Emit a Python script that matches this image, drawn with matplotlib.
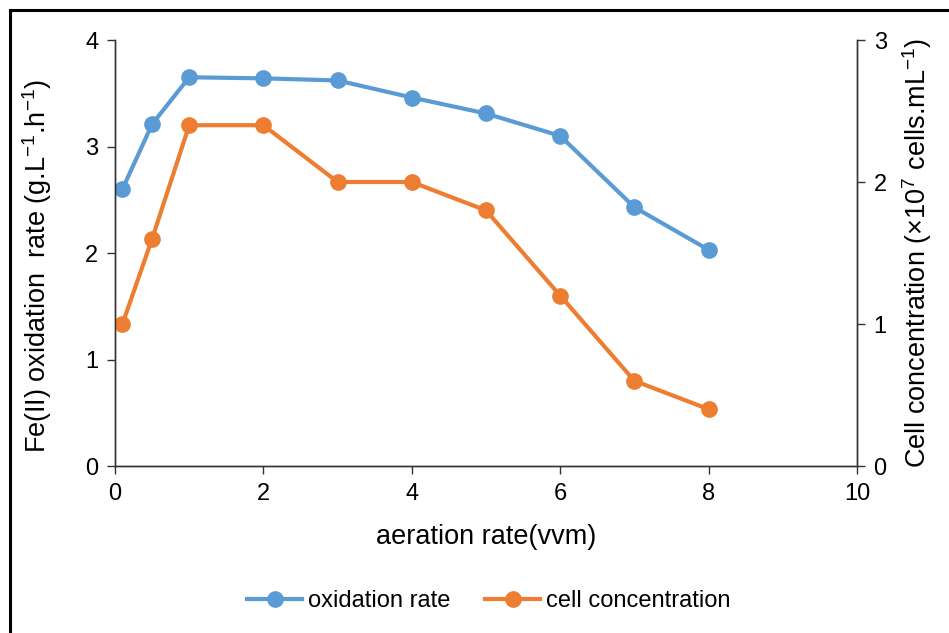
import matplotlib.pyplot as plt
from matplotlib.lines import Line2D

plt.rcParams['font.family'] = ['Liberation Sans', 'DejaVu Sans']
plt.rcParams['mathtext.fontset'] = 'custom'
plt.rcParams['mathtext.rm'] = 'Liberation Sans'
plt.rcParams['mathtext.it'] = 'Liberation Sans'

aeration = [0.1, 0.5, 1, 2, 3, 4, 5, 6, 7, 8]
oxidation_rate = [2.60, 3.21, 3.65, 3.64, 3.62, 3.46, 3.31, 3.10, 2.43, 2.03]
cell_conc = [1.0, 1.6, 2.4, 2.4, 2.0, 2.0, 1.8, 1.2, 0.6, 0.4]

blue = '#5B9BD5'
orange = '#ED7D31'

fig = plt.figure(figsize=(9.49, 6.33), dpi=100)
ax = fig.add_axes([0.1212, 0.2638, 0.903 - 0.1212, 0.9368 - 0.2638])
ax2 = ax.twinx()

l1, = ax.plot(aeration, oxidation_rate, color=blue, lw=3, marker='o', ms=11,
              label='oxidation rate')
l2, = ax2.plot(aeration, cell_conc, color=orange, lw=3, marker='o', ms=11,
               label='cell concentration')

ax.set_xlim(0, 10)
ax.set_ylim(0, 4)
ax2.set_ylim(0, 3)
ax.set_xticks([0, 2, 4, 6, 8, 10])
ax.set_yticks([0, 1, 2, 3, 4])
ax2.set_yticks([0, 1, 2, 3])

for a in (ax, ax2):
    a.spines['top'].set_visible(False)
    for s in a.spines.values():
        s.set_color('#333333')
        s.set_linewidth(1.0)
    a.tick_params(direction='out', length=6, width=1, color='#333333',
                  labelsize=17, pad=6)

ax.set_xlabel('aeration rate(vvm)', fontsize=19.5, labelpad=14)
ax.set_ylabel('Fe(II) oxidation  rate (g.L$^{-1}$.h$^{-1}$)', fontsize=19.5, labelpad=5)
ax.yaxis.set_label_coords(-0.082, 0.47)
ax2.set_ylabel('Cell concentration (×10$^{7}$ cells.mL$^{-1}$)', fontsize=19.5, labelpad=10)

fig.legend(handles=[l1, l2], loc='center', bbox_to_anchor=(0.515, 0.05),
           ncol=2, frameon=False, fontsize=17, handlelength=2.3,
           columnspacing=1.5, handletextpad=0.25)

# frame around the figure (left and top edges visible)
fig.add_artist(Line2D([0.011, 0.011], [0.0, 0.984], transform=fig.transFigure,
                      color='black', lw=2.2))
fig.add_artist(Line2D([0.011, 1.0], [0.984, 0.984], transform=fig.transFigure,
                      color='black', lw=2.2))

fig.savefig('out.png', dpi=100)
